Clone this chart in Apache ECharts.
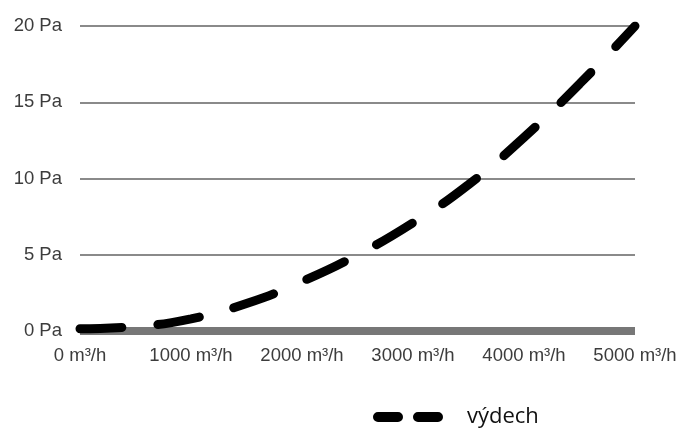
<!DOCTYPE html>
<html>
<head>
<meta charset="utf-8">
<script src="https://cdn.jsdelivr.net/npm/echarts@6/dist/echarts.min.js"></script>
<style>
html,body{margin:0;padding:0;background:#fff;}
#chart{width:682px;height:428px;}
</style>
</head>
<body>
<div id="chart"></div>
<script>
const flowValues = [0, 500, 1000, 1500, 2000, 2500, 3000, 3500, 4000, 4500, 5000];
const pressureValues = [0.15, 0.3, 0.8, 1.8, 3.25, 5.0, 7.1, 9.6, 12.7, 16.2, 20];
const seriesName = 'výdech';
const xUnit = 'm³/h';
const yUnit = 'Pa';

const chart = echarts.init(document.getElementById('chart'), null, {renderer: 'canvas'});
chart.setOption({
  animation: false,
  backgroundColor: '#ffffff',
  grid: {left: 80, right: 47, top: 26, bottom: 97, containLabel: false},
  xAxis: {
    type: 'value', min: 0, max: 5000, interval: 1000,
    axisLine: {show: true, onZero: true, lineStyle: {color: '#777777', width: 8, cap: 'butt'}},
    axisTick: {show: false},
    splitLine: {show: false},
    axisLabel: {
      formatter: v => v + ' ' + xUnit,
      color: '#3c3c3c', fontFamily: 'Liberation Sans', fontSize: 18.5, margin: 15
    }
  },
  yAxis: {
    type: 'value', min: 0, max: 20, interval: 5,
    axisLine: {show: false},
    axisTick: {show: false},
    splitLine: {show: true, lineStyle: {color: '#8a8a8a', width: 2}},
    axisLabel: {
      formatter: v => v + ' ' + yUnit,
      color: '#3c3c3c', fontFamily: 'Liberation Sans', fontSize: 18.5, margin: 18
    }
  },
  legend: {
    left: 373, top: 406, padding: 0,
    itemWidth: 70, itemHeight: 10,
    icon: 'path://M5,0 H25 A5,5 0 0 1 25,10 H5 A5,5 0 0 1 5,0 Z M45,0 H65 A5,5 0 0 1 65,10 H45 A5,5 0 0 1 45,0 Z',
    textStyle: {fontFamily: 'Open Sans', fontSize: 22, color: '#111', padding: [0, 0, 0, 19]},
    data: [seriesName]
  },
  series: [{
    name: seriesName,
    type: 'line',
    smooth: true,
    showSymbol: false,
    color: '#000000',
    itemStyle: {color: '#000000'},
    lineStyle: {color: '#000000', width: 9, type: [42, 36], cap: 'round'},
    data: flowValues.map((x, i) => [x, pressureValues[i]]),
    z: 5
  }]
});
</script>
</body>
</html>
